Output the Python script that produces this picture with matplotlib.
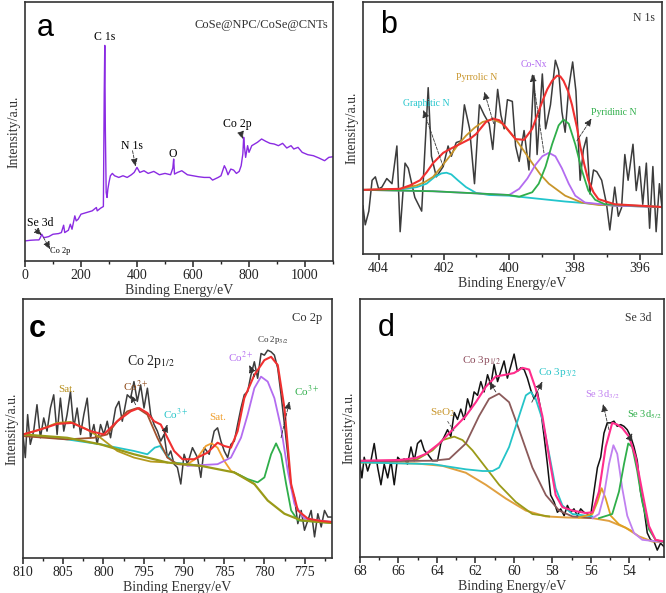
import numpy as np
import matplotlib
matplotlib.use('Agg')
from matplotlib import pyplot as plt
from matplotlib.ticker import MultipleLocator

plt.rcParams['font.family'] = ['Liberation Serif', 'DejaVu Serif']
plt.rcParams['mathtext.fontset'] = 'stix'

RAW = '#3c3c3c'

# ---------------- (a) survey ----------------
a_energy = [0, 20, 40, 50, 55, 60, 65, 70, 85, 100, 120, 130, 138, 142, 155, 162, 168, 178, 183, 190,
            200, 220, 240, 255, 258, 270, 280, 283, 285, 287, 290, 293, 296, 300, 305, 312, 320, 335, 350, 365,
            380, 390, 400, 410, 425, 440, 460, 480, 500, 520, 528, 531, 534, 545, 560, 580, 600, 620, 640, 660,
            670, 690, 700, 712, 718, 725, 735, 745, 755, 765, 772, 778, 781, 784, 788, 795, 800, 810, 830, 845,
            860, 875, 890, 905, 920, 935, 950, 960, 975, 990, 1010, 1030, 1050, 1070, 1085, 1100]
a_counts = [60, 62, 63, 63, 70, 80, 72, 70, 73, 80, 82, 85, 107, 85, 92, 110, 95, 135, 120, 125,
            140, 145, 150, 160, 150, 158, 163, 500, 645, 395, 205, 190, 215, 235, 255, 262, 255, 250, 255, 250,
            258, 265, 280, 265, 270, 262, 268, 258, 262, 258, 278, 305, 260, 265, 270, 258, 255, 252, 250, 250,
            242, 250, 255, 285, 275, 258, 275, 272, 262, 268, 285, 320, 370, 340, 310, 345, 325, 345, 355, 365,
            358, 352, 350, 345, 352, 338, 345, 335, 340, 325, 318, 315, 308, 300, 310, 312]

# ---------------- (b) N 1s ----------------
b_energy = [404.48, 404.41, 404.30, 404.20, 404.10, 404.00, 403.90, 403.75, 403.59, 403.44,
            403.34, 403.19, 403.09, 402.89, 402.68, 402.48, 402.38, 402.23, 402.02, 401.87,
            401.77, 401.62, 401.47, 401.37, 401.21, 401.06, 400.91, 400.76, 400.61, 400.50,
            400.35, 400.25, 400.15, 400.05, 399.90, 399.80, 399.69, 399.54, 399.39, 399.24,
            399.14, 398.98, 398.88, 398.73, 398.58, 398.48, 398.38, 398.28, 398.17, 398.05,
            397.95, 397.82, 397.72, 397.62, 397.52, 397.41, 397.31, 397.16, 397.01, 396.91,
            396.76, 396.65, 396.55, 396.45, 396.35, 396.20, 396.10, 396.00, 395.90, 395.79,
            395.69, 395.59, 395.49, 395.39, 395.31]
b_counts = [140, 85, 125, 215, 225, 190, 195, 220, 205, 315,
            65, 265, 250, 165, 125, 485, 285, 225, 255, 315,
            285, 325, 330, 435, 365, 205, 435, 405, 380, 305,
            480, 405, 365, 450, 445, 315, 270, 360, 245, 520,
            290, 525, 365, 435, 565, 535, 415, 355, 485, 560,
            475, 215, 305, 340, 175, 245, 240, 215, 145, 70,
            195, 110, 135, 290, 215, 320, 185, 255, 145, 265,
            75, 255, 65, 205, 135]

b_env_e = [404.48, 403.34, 403.04, 402.73, 402.53, 402.33, 402.02, 401.77, 401.52, 401.21, 401.01, 400.71,
           400.50, 400.30, 400.10, 399.80, 399.54, 399.29, 398.98, 398.83, 398.68, 398.53, 398.43, 398.33,
           398.19, 398.07, 397.92, 397.82, 397.69, 397.57, 397.41, 397.26, 396.76, 395.31]
b_env_i = [187, 190, 200, 215, 238, 265, 295, 308, 320, 335, 350, 385,
           395, 390, 370, 335, 333, 365, 445, 480, 505, 520, 518, 505,
           475, 435, 370, 315, 260, 215, 180, 160, 145, 137]
b_pyrrolic_e = [404.48, 403.34, 402.83, 402.58, 402.33, 402.07, 401.82, 401.57, 401.32, 401.06, 400.81,
                400.50, 400.20, 399.80, 399.54, 399.29, 399.04, 398.78, 398.28, 397.77, 397.26, 395.31]
b_pyrrolic_i = [187, 190, 200, 210, 225, 255, 285, 318, 345, 368, 385,
                393, 380, 335, 300, 265, 232, 205, 170, 150, 143, 137]
b_graphitic_e = [404.48, 403.34, 402.83, 402.53, 402.28, 402.07, 401.92, 401.77, 401.57, 401.32, 401.01,
                 400.61, 400.00, 398.28, 396.76, 395.31]
b_graphitic_i = [187, 188, 195, 205, 225, 235, 237, 232, 215, 195, 178,
                 172, 170, 153, 141, 137]
b_conx_e = [404.48, 402.33, 400.00, 399.69, 399.44, 399.19, 398.98, 398.78, 398.58, 398.38, 398.17,
            397.97, 397.67, 396.76, 395.31]
b_conx_i = [187, 183, 172, 190, 220, 260, 285, 295, 285, 250, 205,
            170, 150, 141, 137]
b_pyridinic_e = [404.48, 402.33, 400.00, 399.69, 399.29, 399.09, 398.88, 398.68, 398.48, 398.33, 398.17,
                 397.97, 397.77, 397.57, 397.36, 397.06, 395.31]
b_pyridinic_i = [187, 183, 172, 167, 180, 205, 255, 320, 375, 392, 380,
                 320, 245, 185, 158, 145, 137]

# ---------------- (c) Co 2p ----------------
c_energy = [810.00, 809.71, 809.42, 809.09, 808.67, 808.26, 807.84, 807.42, 807.01, 806.59,
            806.18, 805.76, 805.35, 804.93, 804.52, 804.10, 803.69, 803.27, 802.85, 802.44,
            802.02, 801.61, 801.19, 800.78, 800.36, 799.95, 799.53, 799.12, 798.49, 798.08,
            797.66, 797.04, 796.62, 796.21, 795.79, 795.38, 794.96, 794.54, 794.13, 793.71,
            793.30, 792.88, 792.47, 792.05, 791.64, 791.22, 790.81, 790.39, 789.98, 789.56,
            788.94, 788.31, 787.90, 787.48, 786.86, 786.24, 785.82, 785.41, 784.99, 784.57,
            784.16, 783.74, 783.33, 782.91, 782.50, 782.08, 781.67, 781.25, 780.84, 780.42,
            780.00, 779.59, 779.17, 778.76, 778.34, 777.93, 777.51, 777.10, 776.68, 776.27,
            775.85, 775.43, 775.02, 774.60, 774.19, 773.77, 773.36, 772.94, 772.53, 772.11,
            771.57]
c_counts = [374, 304, 434, 344, 384, 464, 364, 424, 384, 454,
            494, 374, 484, 384, 434, 504, 394, 454, 374, 434,
            484, 364, 404, 344, 404, 374, 414, 364, 454, 474,
            414, 494, 484, 534, 474, 524, 454, 514, 434, 404,
            384, 354, 374, 304, 324, 284, 274, 224, 314, 284,
            334, 304, 244, 334, 314, 384, 394, 354, 324, 304,
            344, 354, 404, 454, 494, 504, 554, 594, 544, 619,
            614, 629, 624, 614, 574, 494, 404, 314, 214, 184,
            104, 144, 84, 114, 144, 64, 134, 94, 144, 124,
            124]

c_env_e = [810.00, 807.84, 805.76, 803.89, 801.61, 799.95, 798.28, 796.62, 795.58, 794.54, 793.71,
           792.88, 792.05, 791.22, 790.18, 788.73, 787.07, 785.82, 784.99, 784.16, 783.33, 782.50,
           781.25, 780.00, 779.17, 778.34, 777.51, 776.68, 775.85, 774.60, 772.94, 771.57]
c_env_i = [374, 389, 406, 409, 384, 374, 414, 444, 454, 439, 414,
           404, 364, 324, 299, 299, 319, 349, 339, 334, 384, 484,
           554, 599, 609, 584, 454, 224, 144, 119, 112, 109]
c_bg_e = [810.00, 804.52, 800.36, 796.21, 792.05, 787.90, 783.74, 781.25, 779.59, 777.51, 775.43, 771.57]
c_bg_i = [374, 364, 344, 314, 289, 279, 259, 224, 174, 134, 114, 106]
c_sat1_e = [810.00, 807.84, 805.76, 804.10, 802.02, 800.36, 798.28, 796.21, 794.13, 792.05]
c_sat1_i = [374, 389, 409, 412, 389, 364, 324, 304, 292, 289]
c_co2a_e = [810.00, 804.52, 801.19, 799.53, 798.28, 797.04, 795.79, 794.54, 793.30, 792.05, 790.81, 787.90]
c_co2a_i = [369, 359, 364, 374, 414, 444, 454, 434, 364, 304, 284, 279]
c_co3a_e = [810.00, 804.52, 800.36, 796.21, 794.54, 793.63, 792.96, 792.26, 791.22, 787.90]
c_co3a_i = [374, 359, 344, 324, 314, 334, 339, 314, 289, 279]
c_sat2_e = [789.56, 788.31, 787.28, 786.57, 785.82, 784.99, 784.16, 782.91, 781.25]
c_sat2_i = [284, 304, 339, 347, 334, 294, 264, 249, 224]
c_co2b_e = [789.56, 785.82, 784.16, 782.91, 782.08, 781.25, 780.42, 779.59, 778.76, 777.93, 777.10,
            776.27, 775.02, 771.57]
c_co2b_i = [279, 284, 304, 364, 434, 514, 549, 534, 484, 394, 264,
            164, 119, 109]
c_co3b_e = [783.74, 782.08, 780.84, 780.00, 779.17, 778.55, 777.93, 777.30, 776.68, 775.85, 771.57]
c_co3b_i = [259, 239, 229, 244, 314, 347, 314, 224, 144, 114, 106]

# ---------------- (d) Se 3d ----------------
d_energy = [68.00, 67.90, 67.78, 67.60, 67.43, 67.26, 67.08, 66.91, 66.74, 66.56,
            66.39, 66.22, 66.04, 65.87, 65.70, 65.53, 65.35, 65.18, 65.01, 64.83,
            64.66, 64.49, 64.23, 63.97, 63.80, 63.62, 63.45, 63.28, 63.10, 62.93,
            62.76, 62.58, 62.41, 62.24, 62.07, 61.89, 61.72, 61.55, 61.37, 61.20,
            61.03, 60.85, 60.68, 60.51, 60.34, 60.16, 59.99, 59.82, 59.64, 59.47,
            59.30, 59.12, 58.95, 58.78, 58.61, 58.43, 58.26, 58.09, 57.91, 57.74,
            57.57, 57.39, 57.22, 57.05, 56.88, 56.70, 56.53, 56.36, 56.18, 56.01,
            55.84, 55.66, 55.49, 55.32, 55.15, 54.97, 54.80, 54.63, 54.45, 54.28,
            54.11, 53.93, 53.76, 53.59, 53.42, 53.24, 53.07, 52.90, 52.72, 52.55,
            52.38, 52.20]
d_counts = [270, 230, 290, 250, 280, 330, 260, 210, 270, 230,
            280, 210, 290, 280, 285, 270, 320, 280, 330, 340,
            310, 300, 280, 280, 330, 350, 370, 350, 420, 400,
            430, 400, 460, 430, 480, 470, 510, 480, 530, 500,
            560, 510, 540, 570, 520, 555, 590, 540, 550, 545,
            520, 485, 460, 480, 430, 350, 270, 180, 160, 130,
            140, 120, 150, 130, 140, 120, 140, 130, 125, 120,
            190, 260, 290, 360, 390, 390, 395, 380, 385, 380,
            370, 350, 320, 280, 190, 140, 70, 50, 45, 20,
            40, 30]

d_env_e = [68.00, 65.96, 65.09, 64.57, 63.88, 63.19, 62.50, 61.98, 61.46, 60.94, 60.42, 59.99, 59.56,
           59.21, 58.87, 58.52, 58.17, 57.83, 57.48, 56.96, 56.27, 55.92, 55.58, 55.23, 54.89, 54.63,
           54.37, 54.02, 53.67, 53.33, 52.98, 52.64, 52.20]
d_env_i = [280, 282, 288, 300, 330, 370, 410, 450, 495, 525, 530, 535, 550,
           545, 490, 410, 290, 180, 145, 135, 128, 130, 190, 320, 390, 385,
           375, 350, 290, 190, 90, 50, 45]
d_bg_e = [68.00, 65.09, 63.71, 62.50, 61.46, 60.42, 59.38, 58.34, 57.30, 55.92, 55.06, 54.19, 53.50, 52.81, 52.20]
d_bg_i = [275, 272, 265, 245, 210, 170, 135, 118, 115, 113, 105, 85, 60, 45, 43]
d_seo2_e = [68.00, 65.09, 64.23, 63.71, 63.10, 62.67, 62.15, 61.46, 60.77, 59.90, 59.04, 58.17]
d_seo2_i = [275, 282, 310, 340, 350, 340, 310, 260, 210, 160, 125, 118]
d_co3p1_e = [68.00, 64.23, 63.36, 62.50, 61.81, 61.29, 60.77, 60.25, 59.73, 59.04, 58.34, 57.65, 56.96, 55.92]
d_co3p1_i = [278, 280, 285, 330, 410, 460, 475, 450, 370, 260, 180, 135, 118, 113]
d_co3p3_e = [68.00, 64.23, 62.50, 61.63, 61.11, 60.77, 60.25, 59.73, 59.38, 59.12, 58.87, 58.52, 58.17,
             57.83, 57.48, 56.96, 55.92]
d_co3p3_i = [275, 270, 255, 250, 250, 260, 320, 410, 470, 480, 460, 400, 300,
             200, 150, 125, 118]
d_sesmall_e = [56.62, 55.92, 55.66, 55.44, 55.23, 54.97, 54.54, 53.85]
d_sesmall_i = [115, 125, 160, 200, 170, 120, 95, 75]
d_se32_e = [55.92, 55.58, 55.32, 55.06, 54.83, 54.63, 54.37, 54.11, 53.76, 53.33, 52.20]
d_se32_i = [113, 125, 180, 270, 325, 300, 200, 120, 70, 50, 43]
d_se52_e = [55.58, 54.89, 54.54, 54.28, 54.06, 53.85, 53.59, 53.33, 52.98, 52.64, 52.20]
d_se52_i = [113, 125, 190, 270, 330, 320, 250, 160, 80, 50, 43]


fig = plt.figure(figsize=(6.66, 5.93), dpi=100)


def setup(ax, xlim, ylim, major, minor):
    ax.set_xlim(*xlim)
    ax.set_ylim(*ylim)
    ax.xaxis.set_major_locator(MultipleLocator(major))
    ax.xaxis.set_minor_locator(MultipleLocator(minor))
    ax.set_yticks([])
    ax.tick_params(axis='x', which='major', direction='out', length=4, width=1.1,
                   labelsize=10, pad=2, colors='#222222')
    ax.tick_params(axis='x', which='minor', direction='out', length=2.5, width=1.0, colors='#222222')
    for s in ax.spines.values():
        s.set_linewidth(1.2)
        s.set_color('#333333')
    ax.set_xlabel('Binding Energy/eV', fontsize=10, labelpad=1, color='#333333')
    ax.set_ylabel('Intensity/a.u.', fontsize=10, labelpad=3, color='#333333')


def arrow(ax, head, tail):
    ax.annotate('', xy=head, xytext=tail,
                arrowprops=dict(arrowstyle='-|>,head_length=0.45,head_width=0.2', lw=0.6,
                                ls='--', color='#333333', shrinkA=0, shrinkB=0))


# ---- a ----
ax = fig.add_axes([0.0375, 0.5599, 0.4625, 0.4368])
setup(ax, (0, 1100), (0, 775), 200, 100)
ax.plot(a_energy, a_counts, color='#8a2be2', lw=1.0)
ax.text(0.065, 0.90, 'a', transform=ax.transAxes, family='Liberation Sans', fontsize=22, ha='center', va='center')
ax.text(0.984, 0.91, 'CoSe@NPC/CoSe@CNTs', transform=ax.transAxes, fontsize=9, ha='right', va='center', color='#333333')
ax.text(285, 670, 'C 1s', fontsize=8.5, ha='center', va='center')
ax.text(383, 345, 'N 1s', fontsize=8.5, ha='center', va='center')
ax.text(527, 320, 'O', fontsize=8.5, ha='center', va='center')
ax.text(760, 410, 'Co 2p', fontsize=8.5, ha='center', va='center')
ax.text(54, 115, 'Se 3d', fontsize=8.5, ha='center', va='center')
ax.text(126, 30, 'Co 2p', fontsize=6, ha='center', va='center')
arrow(ax, (395, 283), (384, 330))
arrow(ax, (778, 365), (770, 385))
arrow(ax, (60, 77), (36, 95))
arrow(ax, (90, 35), (66, 70))

# ---- b ----
ax = fig.add_axes([0.545, 0.5717, 0.449, 0.425])
setup(ax, (404.48, 395.31), (0, 735), 2, 1)
ax.plot(b_energy, b_counts, color=RAW, lw=1.1)
ax.plot(b_graphitic_e, b_graphitic_i, color='#22c5cc', lw=1.3)
ax.plot(b_pyrrolic_e, b_pyrrolic_i, color='#c8952a', lw=1.3)
ax.plot(b_conx_e, b_conx_i, color='#b36cf0', lw=1.3)
ax.plot(b_pyridinic_e, b_pyridinic_i, color='#2fae4a', lw=1.3)
ax.plot(b_env_e, b_env_i, color='#f03030', lw=1.5)
ax.text(0.084, 0.909, 'b', transform=ax.transAxes, family='Liberation Sans', fontsize=22, ha='center', va='center')
ax.text(0.977, 0.936, 'N 1s', transform=ax.transAxes, fontsize=8.5, ha='right', va='center', color='#333333')
ax.text(402.53, 438, 'Graphitic N', fontsize=7, ha='center', va='center', color='#22c5cc')
ax.text(401.01, 515, 'Pyrrolic N', fontsize=7, ha='center', va='center', color='#c8952a')
ax.text(399.24, 552, 'Co-Nx', fontsize=7, ha='center', va='center', color='#b36cf0')
ax.text(396.78, 413, 'Pyridinic N', fontsize=7, ha='center', va='center', color='#2fae4a')
arrow(ax, (402.63, 420), (402.02, 255))
arrow(ax, (400.76, 473), (400.47, 380))
arrow(ax, (399.29, 525), (398.93, 295))
arrow(ax, (397.47, 395), (397.92, 330))

# ---- c ----
ax = fig.add_axes([0.0345, 0.059, 0.464, 0.4368])
setup(ax, (810, 771.6), (0, 784), 5, 2.5)
ax.plot(c_energy, c_counts, color=RAW, lw=1.1)
ax.plot(c_co3a_e, c_co3a_i, color='#25c4c8', lw=1.3)
ax.plot(c_co2a_e, c_co2a_i, color='#a0522d', lw=1.3)
ax.plot(c_sat1_e, c_sat1_i, color='#b59a1e', lw=1.3)
ax.plot(c_sat2_e, c_sat2_i, color='#f0a030', lw=1.3)
ax.plot(c_co2b_e, c_co2b_i, color='#b36cf0', lw=1.3)
ax.plot(c_co3b_e, c_co3b_i, color='#2fae4a', lw=1.3)
ax.plot(c_bg_e, c_bg_i, color='#9a9a18', lw=1.6)
ax.plot(c_env_e, c_env_i, color='#f03030', lw=1.5)
ax.text(0.045, 0.884, 'c', transform=ax.transAxes, family='Liberation Sans', fontsize=22, fontweight='bold',
        ha='center', va='center')
ax.text(0.968, 0.927, 'Co 2p', transform=ax.transAxes, fontsize=9, ha='right', va='center', color='#333333')
ax.text(778.97, 661, r'Co 2p$_{3/2}$', fontsize=6.5, ha='center', va='center', color='#333333')
ax.text(794.13, 594, r'Co 2p$_{1/2}$', fontsize=10, ha='center', va='center', color='#222222')
ax.text(804.52, 509, 'Sat.', fontsize=8, ha='center', va='center', color='#b8901e')
ax.text(796.0, 519, r'Co$^{2+}$', fontsize=8, ha='center', va='center', color='#8b4513')
ax.text(791.0, 434, r'Co$^{3+}$', fontsize=8, ha='center', va='center', color='#25c4c8')
ax.text(785.82, 426, 'Sat.', fontsize=8, ha='center', va='center', color='#f0a030')
ax.text(782.91, 606, r'Co$^{2+}$', fontsize=8, ha='center', va='center', color='#b36cf0')
ax.text(774.81, 504, r'Co$^{3+}$', fontsize=8, ha='center', va='center', color='#2fae4a')
arrow(ax, (796.62, 494), (796.0, 464))
arrow(ax, (792.05, 404), (792.47, 374))
arrow(ax, (781.87, 584), (781.25, 549))
arrow(ax, (776.89, 474), (777.93, 364))

# ---- d ----
ax = fig.add_axes([0.5405, 0.0607, 0.4565, 0.435])
setup(ax, (68, 52.2), (0, 750), 2, 1)
ax.plot(d_energy, d_counts, color='#111111', lw=1.1)
ax.plot(d_bg_e, d_bg_i, color='#e0a040', lw=1.4)
ax.plot(d_seo2_e, d_seo2_i, color='#9a9a18', lw=1.3)
ax.plot(d_co3p1_e, d_co3p1_i, color='#8b5a5a', lw=1.3)
ax.plot(d_co3p3_e, d_co3p3_i, color='#25c4c8', lw=1.3)
ax.plot(d_sesmall_e, d_sesmall_i, color='#e0a020', lw=1.3)
ax.plot(d_se32_e, d_se32_i, color='#c080f0', lw=1.3)
ax.plot(d_se52_e, d_se52_i, color='#2fae4a', lw=1.3)
ax.plot(d_env_e, d_env_i, color='#ff2d8c', lw=1.5)
ax.text(0.086, 0.888, 'd', transform=ax.transAxes, family='Liberation Sans', fontsize=22, ha='center', va='center')
ax.text(0.957, 0.926, 'Se 3d', transform=ax.transAxes, fontsize=8.5, ha='right', va='center', color='#333333')
ax.text(61.68, 572, r'Co 3p$_{1/2}$', fontsize=8, ha='center', va='center', color='#8b4a5a')
ax.text(57.74, 535, r'Co 3p$_{3/2}$', fontsize=8, ha='center', va='center', color='#25c4c8')
ax.text(63.71, 420, r'SeO$_2$', fontsize=8, ha='center', va='center', color='#c8952a')
ax.text(55.40, 472, r'Se 3d$_{3/2}$', fontsize=7.5, ha='center', va='center', color='#c080f0')
ax.text(53.24, 415, r'Se 3d$_{5/2}$', fontsize=7.5, ha='center', va='center', color='#2fae4a')
arrow(ax, (61.29, 510), (60.94, 480))
arrow(ax, (58.52, 510), (59.07, 450))
ax.plot([63.45, 63.10], [395, 365], color='#555555', lw=0.6, ls='--')
arrow(ax, (55.37, 445), (55.06, 370))
arrow(ax, (53.85, 360), (54.02, 340))

fig.savefig('out.png', dpi=100)
